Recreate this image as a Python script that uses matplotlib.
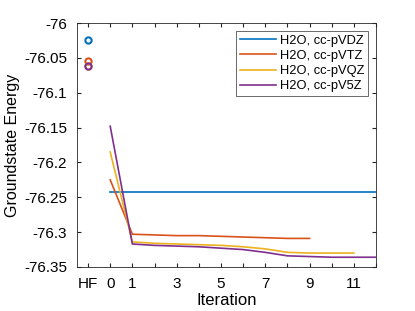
import matplotlib
matplotlib.use("Agg")
import matplotlib.pyplot as plt
import numpy as np

plt.rcParams['font.family'] = ['Liberation Sans', 'DejaVu Sans']

labels = ['H2O, cc-pVDZ', 'H2O, cc-pVTZ', 'H2O, cc-pVQZ', 'H2O, cc-pV5Z']
colors = ['#0072BD', '#D95319', '#EDB120', '#7E2F8E']

hf_energy = [-76.025, -76.055, -76.061, -76.062]

vdz = [-76.242, -76.242]
vdz_iter = [0, 12.5]
vtz = [-76.225, -76.303, -76.304, -76.305, -76.305, -76.306, -76.307, -76.308, -76.309, -76.309]
vqz = [-76.185, -76.314, -76.316, -76.317, -76.318, -76.319, -76.321, -76.324, -76.329,
       -76.330, -76.330, -76.330]
v5z = [-76.148, -76.317, -76.319, -76.320, -76.321, -76.323, -76.325, -76.329, -76.334,
       -76.335, -76.336, -76.336, -76.336]

tick_pos = [-1, 0, 1, 2, 3, 4, 5, 6, 7, 8, 9, 10, 11, 12]
tick_lbl = ['HF', '0', '1', '', '3', '', '5', '', '7', '', '9', '', '11', '']

fig = plt.figure(figsize=(4.15, 3.11), dpi=100)
ax = fig.add_axes([0.1855, 0.1415, 0.7205, 0.7845])

ax.plot(vdz_iter, vdz, color=colors[0], lw=1.2, label=labels[0])
ax.plot(np.arange(len(vtz)), vtz, color=colors[1], lw=1.2, label=labels[1])
ax.plot(np.arange(len(vqz)), vqz, color=colors[2], lw=1.2, label=labels[2])
ax.plot(np.arange(len(v5z)), v5z, color=colors[3], lw=1.2, label=labels[3])

for e, c in zip(hf_energy, colors):
    ax.plot(-1, e, 'o', mfc='none', mec=c, ms=4.5, mew=1.5)

ax.set_xlim(-1.5, 12)
ax.set_ylim(-76.35, -76)
ax.set_xticks(tick_pos)
ax.set_xticklabels(tick_lbl)
ax.set_yticks(np.arange(-76.35, -75.99, 0.05))
ax.set_yticklabels(['-76.35', '-76.3', '-76.25', '-76.2', '-76.15', '-76.1', '-76.05', '-76'])
ax.tick_params(direction='in', top=True, right=True, labelsize=11, length=3, color='#262626')
ax.tick_params(axis='y', pad=7)
ax.tick_params(axis='x', pad=7)
for s in ax.spines.values():
    s.set_color('#262626')
    s.set_linewidth(0.6)

ax.set_xlabel('Iteration', fontsize=12, labelpad=2)
ax.set_ylabel('Groundstate Energy', fontsize=11.5, labelpad=3)

leg = ax.legend(loc='upper right', fontsize=9.3, fancybox=False, edgecolor='#262626',
                handlelength=2.8, handletextpad=0.3, borderpad=0.3, labelspacing=0.25,
                borderaxespad=0.6)
leg.get_frame().set_linewidth(0.6)

fig.savefig('out.png', dpi=100)
